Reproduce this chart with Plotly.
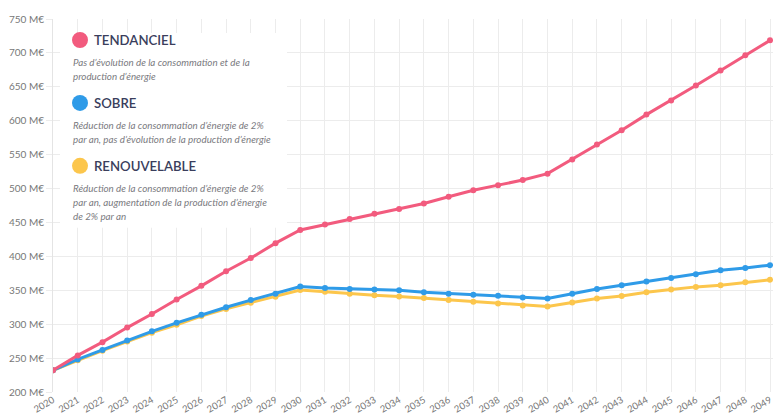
import plotly.graph_objects as go

years = list(range(2020, 2050))
tendanciel = [232, 254, 273.5, 295, 315, 336.5, 356.5, 378, 397.5, 419.5, 439, 447, 455, 463, 470,
              478, 488, 497.5, 505, 512.5, 522, 543, 565, 586, 609, 630, 652, 674, 696.5, 718.5]
sobre = [232, 248, 262, 276, 289.5, 302, 314, 325, 335.5, 345, 355.5, 353.5, 352, 351, 350,
         347, 345, 343.5, 342, 339.5, 338, 345, 352, 357.5, 363, 368, 373.5, 379.5, 383, 387]
renouvelable = [232, 247, 261, 274.5, 287.5, 299, 312, 322.5, 331.5, 340.5, 350.5, 348, 345, 342.5, 341,
                338.5, 335.5, 333, 330.5, 327.5, 326, 332, 338, 341.5, 347, 351, 355, 357.5, 362, 365.5]
y_ticks = [200, 250, 300, 350, 400, 450, 500, 550, 600, 650, 700, 750]
y_tick_labels = [f"{v} M€" for v in y_ticks]

series_names = ["TENDANCIEL", "SOBRE", "RENOUVELABLE"]
series_desc = [
    ["Pas d’évolution de la consommation et de la", "production d’énergie"],
    ["Réduction de la consommation d’énergie de 2%", "par an, pas d’évolution de la production d’énergie"],
    ["Réduction de la consommation d’énergie de 2%", "par an, augmentation de la production d’énergie",
     "de 2% par an"],
]
colors = {"TENDANCIEL": "#f25b7e", "SOBRE": "#2f9be8", "RENOUVELABLE": "#fcc64c"}

W, H = 773, 414
ML, MR, MT, MB = 53, 0, 19, 21.5
PW, PH = W - ML - MR, H - MT - MB


def px(x):
    return (x - ML) / PW


def py(y):
    return 1 - (y - MT) / PH


fig = go.Figure()
for name, vals in [("RENOUVELABLE", renouvelable), ("SOBRE", sobre), ("TENDANCIEL", tendanciel)]:
    fig.add_trace(go.Scatter(
        x=years, y=vals, name=name, mode="lines+markers",
        line=dict(color=colors[name], width=3),
        marker=dict(color=colors[name], size=6),
        showlegend=False, cliponaxis=True,
    ))

shapes = [dict(type="rect", xref="paper", yref="paper", x0=px(60), x1=px(287), y0=py(228), y1=py(33),
               fillcolor="white", line=dict(width=0), layer="above")]
annotations = []
title_y = [40, 103, 166]
desc_y0 = [62, 125.5, 188]
for name, ty, descs, dy in zip(series_names, title_y, series_desc, desc_y0):
    shapes.append(dict(type="circle", xref="paper", yref="paper", xsizemode="pixel", ysizemode="pixel",
                       xanchor=px(80), yanchor=py(ty), x0=-8, x1=8, y0=-8, y1=8,
                       fillcolor=colors[name], line=dict(width=0), layer="above"))
    annotations.append(dict(text=name, xref="paper", yref="paper", x=px(92), y=py(ty),
                            xanchor="left", yanchor="middle", showarrow=False,
                            font=dict(family="Lato", size=13.2, color="#3a3e5c", weight=600)))
    for i, line in enumerate(descs):
        annotations.append(dict(text=f"<i>{line}</i>", xref="paper", yref="paper", x=px(71),
                                y=py(dy + i * 14), xanchor="left", yanchor="middle", showarrow=False,
                                font=dict(family="Lato", size=9.8, color="#7a7a80")))

fig.update_layout(
    width=W, height=H,
    margin=dict(l=ML, r=MR, t=MT, b=MB, autoexpand=False),
    paper_bgcolor="white", plot_bgcolor="white",
    shapes=shapes, annotations=annotations,
    font=dict(family="Lato", color="#666"),
    xaxis=dict(range=[2020, 2049.12], tickmode="array", tickvals=years, ticktext=[str(y) for y in years],
               tickangle=-30, tickfont=dict(size=9.5, color="#777"), showgrid=True, gridcolor="#ececec",
               zeroline=False, showline=False, ticks="", automargin=False, ticklabeloverflow="allow",
               ticklabelstandoff=0),
    yaxis=dict(range=[200, 750], tickmode="array", tickvals=y_ticks, ticktext=y_tick_labels,
               tickfont=dict(size=10, color="#777"), showgrid=True, gridcolor="#ececec",
               zeroline=False, showline=True, linecolor="#e4e4e4", ticks="outside", ticklen=6,
               tickcolor="#ececec", automargin=False),
)
fig.write_html("out.html", config={"displayModeBar": False},
               post_script="document.body.style.margin='0';document.body.style.padding='0';"
                           "document.documentElement.style.overflow='hidden';")
